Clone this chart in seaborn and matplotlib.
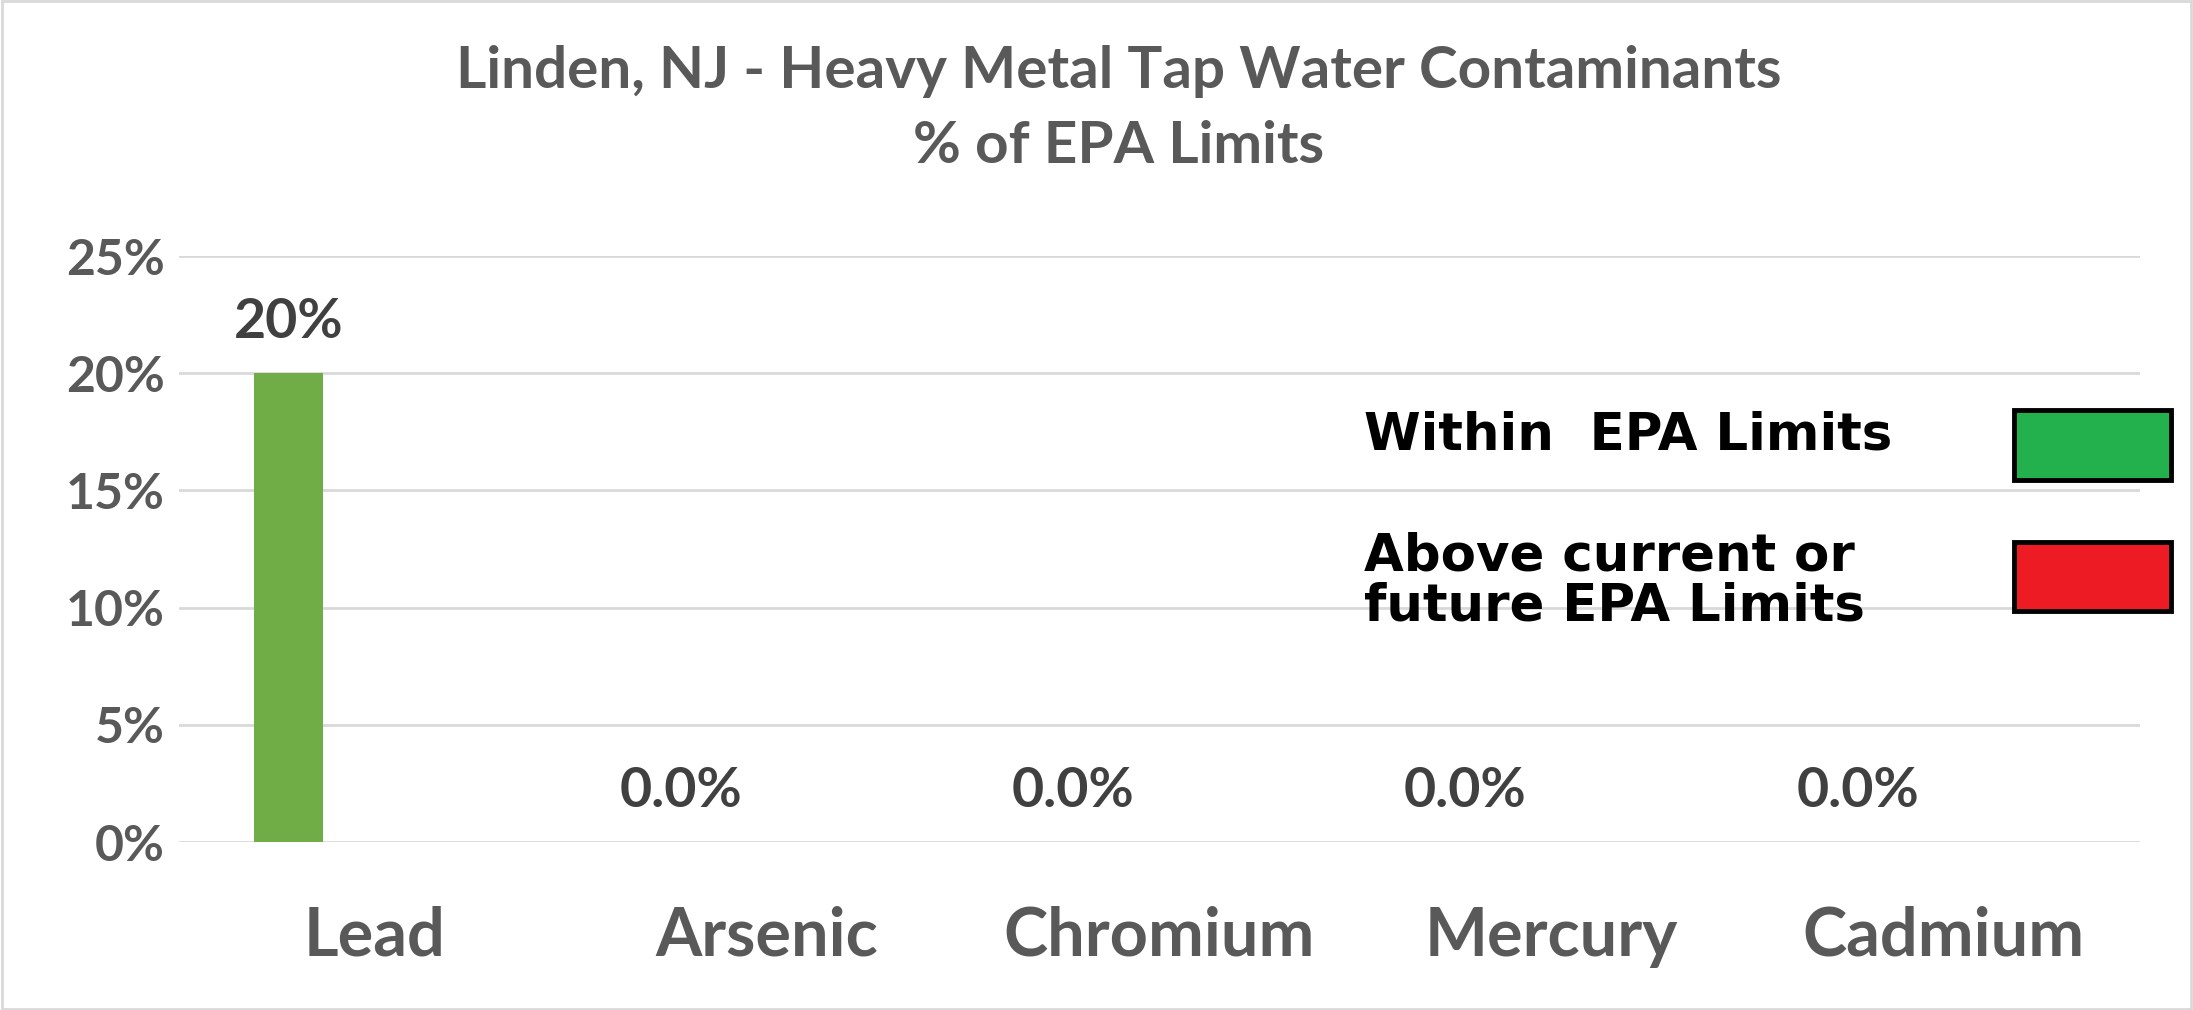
import numpy as np
import pandas as pd
import seaborn as sns
import matplotlib.pyplot as plt
import matplotlib.patches as patches

# データ
metals=["Lead","Arsenic","Chromium","Mercury","Cadmium"]
within_values=[0.20,0.0,0.0,0.0,0.0]
above_values=[0.0,0.0,0.0,0.0,0.0]
value_labels=["20%","0.0%","0.0%","0.0%","0.0%"]
y_ticks=[0,0.05,0.10,0.15,0.20,0.25]
y_tick_labels=["0%","5%","10%","15%","20%","25%"]
title_lines=["Linden, NJ - Heavy Metal Tap Water Contaminants","% of EPA Limits"]
legend_labels=["Within  EPA Limits","Above current or\nfuture EPA Limits"]
legend_colors=["#22B14C","#ED1C24"]

df=pd.DataFrame({
    "metal":metals*2,
    "value":within_values+above_values,
    "status":["within"]*len(metals)+["above"]*len(metals)
})

sns.set_style("white")
plt.rcParams['font.family']=['Lato','DejaVu Sans']

fig=plt.figure(figsize=(21.93,10.10),dpi=100)
ax=fig.add_axes([0.0816,0.1663,0.8942,0.5802])

sns.barplot(
    data=df,x="metal",y="value",hue="status",
    palette=["#70AD47","#ED1C24"],
    width=0.88,gap=0.6,saturation=1,
    errorbar=None,legend=False,linewidth=0,ax=ax
)

# 値ラベル（緑の系列の上）
ax.bar_label(ax.containers[0],labels=value_labels,padding=19,
             fontsize=40,fontweight="bold",color="#404040")

ax.set_ylim(0,0.25)
ax.set_yticks(y_ticks)
ax.set_yticklabels(y_tick_labels,fontsize=36,fontweight="bold",color="#595959")
ax.tick_params(axis="y",length=0,pad=10)
ax.tick_params(axis="x",length=0,pad=46)
for lab in ax.get_xticklabels():
    lab.set_fontsize(48)
    lab.set_fontweight("bold")
    lab.set_color("#595959")

ax.yaxis.grid(True,color="#D9D9D9",linewidth=2)
ax.set_axisbelow(True)
for s in ax.spines.values():
    s.set_visible(False)
ax.set_xlabel("")
ax.set_ylabel("")

# タイトル
fig.text(0.51,0.929,title_lines[0],ha="center",va="center",fontsize=42,fontweight="bold",color="#595959")
fig.text(0.51,0.855,title_lines[1],ha="center",va="center",fontsize=42,fontweight="bold",color="#595959")

# 凡例（右側の画像風）
fig.text(0.622,0.5693,legend_labels[0],ha="left",va="center",fontsize=37,
         fontweight="bold",color="black",family=["DejaVu Sans"])
fig.text(0.622,0.424,legend_labels[1],ha="left",va="center",fontsize=37,
         fontweight="bold",color="black",family=["DejaVu Sans"],linespacing=1.0)

box_y=[0.5248,0.395]
for c,y in zip(legend_colors,box_y):
    rect=patches.Rectangle((0.9184,y),0.0716,0.0688,transform=fig.transFigure,
                           facecolor=c,edgecolor="black",linewidth=3.5)
    fig.patches.append(rect)

# 外枠
border=patches.Rectangle((0.001,0.001),0.998,0.998,transform=fig.transFigure,
                         facecolor="none",edgecolor="#D9D9D9",linewidth=2)
fig.patches.append(border)

plt.savefig("out.png",dpi=100)
plt.close()
